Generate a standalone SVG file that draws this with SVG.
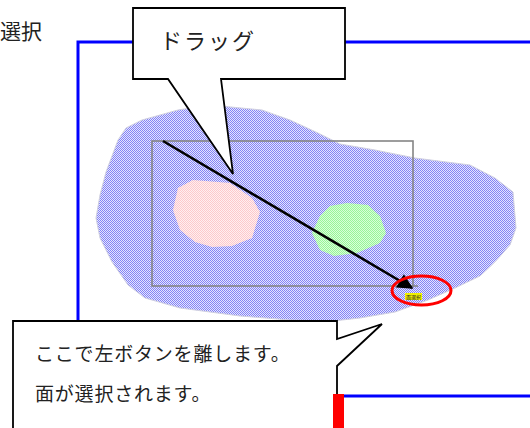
<svg xmlns="http://www.w3.org/2000/svg" width="530" height="428" viewBox="0 0 530 428">
<style>
.jp{font-family:"Noto Sans CJK JP","Noto Sans CJK SC",sans-serif;fill:#222;}
.frame{stroke:#0000ff;stroke-width:3;fill:none;}
.callout{fill:#fff;stroke:#000;stroke-width:1.8;stroke-linejoin:miter;}
</style>
<defs>
<pattern id="pb" width="2" height="2" patternUnits="userSpaceOnUse">
<rect width="2" height="2" fill="#e4e4ff"/>
<rect width="1" height="1" fill="#8484f4"/>
<rect x="1" y="1" width="1" height="1" fill="#8484f4"/>
</pattern>
<pattern id="pp" width="2" height="2" patternUnits="userSpaceOnUse">
<rect width="2" height="2" fill="#fff0f0"/>
<rect width="1" height="1" fill="#fcc8cc"/>
<rect x="1" y="1" width="1" height="1" fill="#fcc8cc"/>
</pattern>
<pattern id="pg" width="2" height="2" patternUnits="userSpaceOnUse">
<rect width="2" height="2" fill="#d8ffd8"/>
<rect width="1" height="1" fill="#98f498"/>
<rect x="1" y="1" width="1" height="1" fill="#98f498"/>
</pattern>
<marker id="ah" viewBox="0 0 10 10" refX="9" refY="5" markerWidth="7" markerHeight="6" orient="auto" markerUnits="strokeWidth">
<path d="M0,0 L10,5 L0,10 z" fill="#000"/>
</marker>
</defs>

<g id="title">
<text class="jp" x="0" y="39" font-size="21">選択</text>
</g>

<g id="frame">
<path class="frame" d="M78,321 V42 H530"/>
<path class="frame" d="M344,396 H530"/>
</g>

<g id="face-outer">
<polygon fill="url(#pb)" stroke="#d0d0e0" stroke-width="1" points="96,218 100,195 106,172 118,140 126,128 142,120 178,110 210,105 262,110 290,120 318,133 340,144 375,150 415,158 470,165 495,178 513,192 516,228 510,245 495,262 480,276 455,288 428,300 395,312 360,318 333,321 290,320 240,316 180,308 145,298 128,285 112,262 100,238"/>
</g>
<g id="face-pink">
<polygon fill="url(#pp)" points="178,188 193,180 230,183 252,198 260,212 252,238 232,246 212,247 195,242 180,230 173,210"/>
</g>
<g id="face-green">
<polygon fill="url(#pg)" points="312,233 320,216 330,206 347,203 368,205 380,216 386,233 380,243 357,253 334,256 320,250"/>
</g>

<g id="selection-rect">
<rect x="152" y="141" width="261" height="145" fill="none" stroke="#858585" stroke-width="1.6"/>
<line x1="413" y1="286" x2="418" y2="286" stroke="#858585" stroke-width="1.6"/>
</g>

<g id="connectors">
<line x1="163" y1="141" x2="412" y2="288" stroke="#000" stroke-width="2.6" marker-end="url(#ah)"/>
</g>

<g id="cursor-label">
<rect x="405" y="293" width="17" height="7" fill="#f0f000"/>
<text class="jp" x="406" y="299" font-size="5">面選択</text>
</g>

<g id="release-mark">
<ellipse cx="421.5" cy="290.5" rx="29.5" ry="14.5" fill="none" stroke="#ff0000" stroke-width="3"/>
</g>

<g id="callout-drag">
<polygon class="callout" points="133,8 345,8 345,79 221,79 233,174 168,79 133,79"/>
<text class="jp" x="160" y="49" font-size="22" letter-spacing="2">ドラッグ</text>
</g>

<g id="callout-release">
<polygon class="callout" points="13,432 13,321 337,321 337,339 382,324 337,366 337,432"/>
<text class="jp" x="35" y="361" font-size="19" letter-spacing="0.8">ここで左ボタンを離します。</text>
<text class="jp" x="35" y="401" font-size="19" letter-spacing="0.8">面が選択されます。</text>
</g>

<g id="red-bar">
<rect x="333" y="394" width="11" height="34" fill="#ff0000"/>
</g>
</svg>
